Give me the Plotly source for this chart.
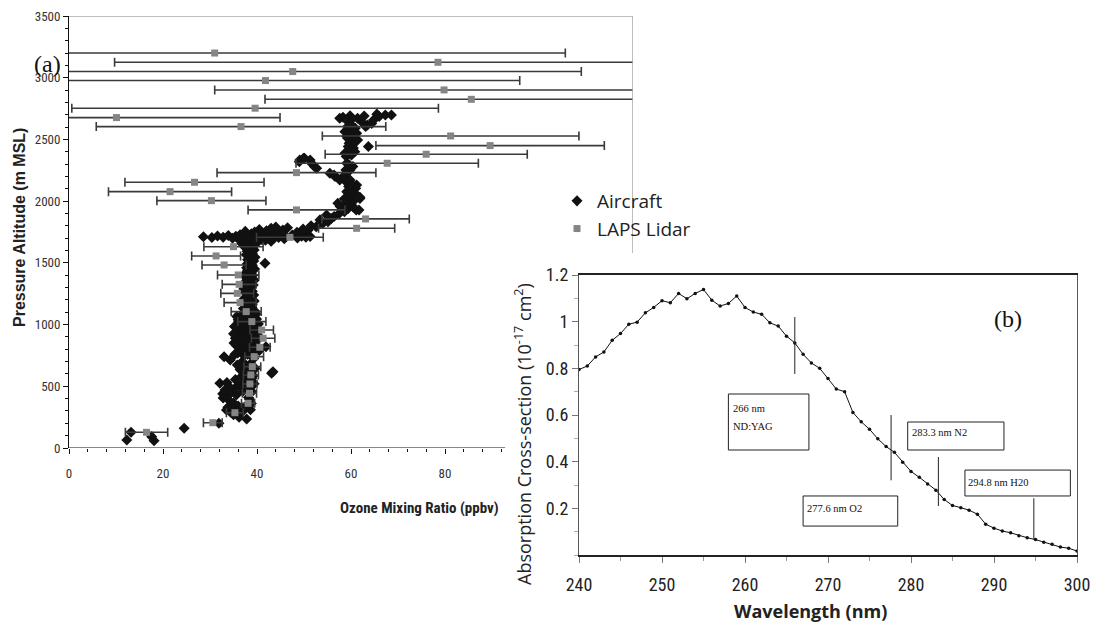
import plotly.graph_objects as go

W, H = 1094, 628

# ---------------- Panel (a) data ----------------
lidar_alt = [3200, 3125, 3050, 2977, 2901, 2825, 2753, 2677, 2604, 2528,
             2450, 2380, 2307, 2231, 2153, 2077, 2004, 1929, 1856, 1780,
             1707, 1631, 1556, 1483, 1402, 1326, 1253, 1178, 1105, 1024,
             956, 889, 816, 740, 659, 592, 519, 443, 362, 286,
             205, 127]
lidar_ozone = [31.0, 78.5, 47.6, 41.8, 79.8, 85.6, 39.6, 10.1, 36.6, 81.2,
               89.6, 76.0, 67.7, 48.4, 26.7, 21.5, 30.3, 48.4, 63.1, 61.2,
               47.0, 35.0, 31.3, 33.0, 36.0, 36.2, 35.8, 36.4, 37.7, 38.9,
               41.0, 41.3, 40.6, 39.4, 39.0, 38.7, 38.5, 38.4, 38.1, 35.3,
               30.6, 16.5]
lidar_err = [74.6, 68.8, 61.4, 54.1, 48.8, 43.9, 39.0, 34.8, 30.8, 27.3,
             24.3, 21.5, 19.4, 16.9, 14.8, 13.1, 11.6, 10.3, 9.3, 8.1,
             7.1, 6.3, 5.2, 4.7, 4.4, 3.6, 3.5, 3.4, 3.2, 3.0,
             2.5, 2.5, 2.2, 2.0, 1.8, 1.6, 1.5, 1.5, 1.4, 1.8,
             2.0, 4.5]

aircraft_alt = [
    65, 127, 59, 92, 160, 200, 235, 250, 270, 290,
    308, 320, 300, 330, 340, 350, 365, 380, 395, 405,
    420, 430, 440, 450, 460, 470, 480, 490, 500, 510,
    524, 530, 540, 555, 565, 575, 585, 595, 605, 618,
    625, 635, 645, 660, 672, 685, 700, 713, 725, 740,
    750, 760, 770, 782, 795, 805, 815, 821, 830, 840,
    850, 860, 870, 880, 890, 900, 910, 920, 930, 940,
    950, 960, 970, 980, 990, 1000, 1010, 1020, 1030, 1040,
    1050, 1060, 1070, 1080, 1090, 1100, 1110, 1120, 1130, 1140,
    1150, 1160, 1170, 1180, 1190, 1200, 1210, 1220, 1230, 1240,
    1250, 1260, 1270, 1280, 1290, 1300, 1310, 1320, 1330, 1340,
    1350, 1360, 1370, 1380, 1390, 1400, 1410, 1420, 1430, 1440,
    1450, 1460, 1470, 1480, 1490, 1497, 1505, 1515, 1525, 1535,
    1545, 1555, 1565, 1575, 1585, 1595, 1605, 1615, 1625, 1635,
    1645, 1655, 1665, 1672, 1680, 1688, 1695, 760, 790, 830,
    850, 875, 905, 925, 945, 965, 985, 1005, 1025, 1045,
    1065, 1085, 310, 360, 410, 455, 500, 520, 545, 1655,
    1712, 1705, 1718, 1708, 1722, 1700, 1715, 1728, 1704, 1720,
    1735, 1710, 1726, 1740, 1703, 1717, 1730, 1706, 1722, 1712,
    1725, 1702, 1716, 1708, 1713, 1695, 1750, 1760, 1745, 1770,
    1690, 1698, 1755, 1780, 1765, 1740, 1748, 1766, 1775, 1793,
    1800, 1820, 1834, 1848, 1860, 1875, 1888, 1900, 1915, 1929,
    1929, 1940, 1956, 1956, 1970, 1983, 1995, 2004, 2010, 2020,
    2021, 2031, 2037, 2050, 2065, 2077, 2077, 2090, 2105, 2118,
    2131, 2145, 2160, 2172, 2172, 2185, 2199, 2199, 2212, 2226,
    2240, 2253, 2253, 2266, 2280, 2280, 2295, 2307, 2307, 2320,
    2334, 2334, 2347, 2347, 2361, 2374, 2388, 2401, 2415, 2430,
    2442, 2442, 2455, 2470, 2483, 2496, 2496, 2509, 2523, 2537,
    2550, 2550, 2563, 2577, 2590, 2604, 2604, 2617, 2630, 2645,
    2658, 2672, 2672, 2680, 2685, 2692, 2698, 2698, 2690, 2705,
    2665, 2640, 2620, 1785, 1790, 1695, 1700, 1710, 1684, 1676,
]
aircraft_ozone = [
    12.3, 13.2, 18.1, 17.6, 24.5, 31.9, 37.8, 36.2, 35.0, 34.4,
    33.5, 35.3, 37.0, 33.8, 36.0, 37.9, 35.0, 34.2, 38.4, 32.8,
    33.6, 35.6, 32.7, 34.5, 37.0, 33.2, 35.2, 38.6, 34.0, 36.2,
    32.1, 33.6, 37.8, 35.4, 38.9, 36.6, 39.2, 37.2, 43.1, 43.4,
    38.1, 36.4, 39.6, 37.6, 35.8, 38.7, 36.9, 34.3, 39.3, 33.0,
    37.2, 38.0, 35.9, 39.8, 36.5, 38.6, 37.4, 41.9, 35.6, 39.2,
    36.8, 38.3, 37.0, 40.2, 35.4, 38.0, 36.3, 39.4, 37.3, 35.8,
    38.8, 36.6, 40.0, 37.6, 35.9, 38.5, 36.9, 39.6, 37.2, 36.0,
    38.4, 37.4, 39.2, 36.8, 38.1, 37.5, 39.5, 38.0, 37.1, 38.9,
    37.6, 39.0, 38.2, 37.4, 39.4, 38.0, 37.3, 38.8, 37.8, 39.3,
    38.2, 37.5, 39.0, 38.0, 37.2, 38.7, 37.9, 39.2, 38.3, 37.4,
    38.6, 39.4, 37.9, 38.4, 37.5, 39.1, 38.2, 37.7, 38.9, 38.0,
    39.5, 37.8, 38.6, 39.0, 37.9, 41.7, 38.5, 39.3, 38.0, 38.8,
    39.6, 38.3, 37.7, 39.0, 38.5, 37.9, 39.4, 38.2, 37.5, 39.0,
    38.0, 36.8, 39.5, 37.2, 38.6, 40.2, 36.0, 35.3, 40.5, 39.9,
    35.1, 38.9, 40.4, 35.0, 37.9, 39.0, 35.2, 40.3, 36.1, 39.9,
    35.7, 39.8, 38.6, 38.8, 38.2, 38.9, 38.2, 39.4, 36.4, 39.8,
    28.6, 30.4, 31.6, 32.8, 33.9, 34.8, 35.5, 36.4, 37.2, 38.1,
    38.8, 39.6, 40.5, 41.2, 42.0, 42.9, 43.7, 44.6, 45.3, 46.2,
    47.5, 48.6, 49.5, 50.4, 51.3, 45.8, 39.5, 42.0, 44.5, 40.5,
    41.0, 39.0, 37.5, 43.0, 45.5, 49.7, 48.5, 50.9, 49.8, 52.6,
    51.5, 54.0, 55.1, 53.4, 55.8, 56.4, 54.8, 57.5, 58.6, 61.1,
    61.7, 59.4, 57.7, 60.4, 58.8, 57.2, 60.0, 60.6, 59.1, 58.6,
    61.9, 61.9, 61.2, 59.8, 60.8, 59.1, 59.3, 60.2, 61.0, 59.5,
    61.2, 60.0, 58.9, 59.8, 57.6, 59.0, 58.4, 56.6, 56.4, 55.5,
    59.4, 59.8, 58.9, 52.7, 60.4, 52.2, 59.6, 59.1, 51.6, 49.0,
    49.1, 51.3, 49.9, 50.1, 59.0, 60.1, 58.7, 60.8, 59.9, 60.5,
    59.4, 63.7, 60.3, 59.6, 61.0, 60.4, 61.4, 59.3, 59.1, 60.2,
    61.2, 60.6, 58.7, 59.8, 60.9, 59.3, 63.1, 63.5, 64.4, 62.2,
    64.8, 57.6, 61.4, 58.3, 66.0, 59.8, 67.3, 68.6, 62.8, 65.5,
    60.2, 59.5, 60.0, 46.5, 44.0, 43.5, 36.5, 37.8, 41.8, 43.0,
]

ozone_ticks = [0, 20, 40, 60, 80]

# ---------------- Panel (b) data ----------------
wavelength = [240, 241, 242, 243, 244, 245, 246, 247, 248, 249,
              250, 251, 252, 253, 254, 255, 256, 257, 258, 259,
              260, 261, 262, 263, 264, 265, 266, 267, 268, 269,
              270, 271, 272, 273, 274, 275, 276, 277, 278, 279,
              280, 281, 282, 283, 284, 285, 286, 287, 288, 289,
              290, 291, 292, 293, 294, 295, 296, 297, 298, 299, 300]
cross_section = [0.795, 0.81, 0.849, 0.87, 0.92, 0.949, 0.989, 0.998, 1.038, 1.061,
                 1.09, 1.081, 1.121, 1.098, 1.121, 1.138, 1.092, 1.067, 1.078, 1.11,
                 1.061, 1.041, 1.032, 0.995, 0.981, 0.938, 0.909, 0.86, 0.823, 0.80,
                 0.756, 0.711, 0.70, 0.611, 0.571, 0.539, 0.498, 0.465, 0.44, 0.397,
                 0.358, 0.333, 0.304, 0.278, 0.238, 0.212, 0.203, 0.192, 0.175, 0.132,
                 0.115, 0.103, 0.095, 0.083, 0.074, 0.066, 0.055, 0.046, 0.034, 0.029, 0.017]

line_wavelengths = [266.0, 277.6, 283.3, 294.8]
line_labels = ["266 nm<br>ND:YAG", "277.6 nm O2", "283.3 nm N2", "294.8 nm H20"]

NARROW = "Liberation Sans Narrow, Arial Narrow, Roboto Condensed, Liberation Sans, sans-serif"
SANS = "Open Sans, Noto Sans, sans-serif"
ARIAL = "Liberation Sans, Arial, sans-serif"
SERIF = "Liberation Serif, Times New Roman, serif"


def fx(px):
    return px / W


def fy(py):
    return 1 - py / H


fig = go.Figure()

fig.add_trace(go.Scatter(
    x=aircraft_ozone, y=aircraft_alt, mode="markers", name="Aircraft",
    marker=dict(symbol="diamond", size=8.5, color="#111111", line=dict(width=0)),
    xaxis="x", yaxis="y"))

fig.add_trace(go.Scatter(
    x=lidar_ozone, y=lidar_alt, mode="markers", name="LAPS Lidar",
    marker=dict(symbol="square", size=7, color="#858585", line=dict(width=0)),
    error_x=dict(type="data", array=lidar_err, color="#3a3a3a", thickness=1.6, width=4.5),
    xaxis="x", yaxis="y"))

fig.add_trace(go.Scatter(
    x=wavelength, y=cross_section, mode="lines+markers", showlegend=False,
    line=dict(color="#111111", width=1),
    marker=dict(size=3.5, color="#111111"),
    xaxis="x2", yaxis="y2"))

minor_x_a = [v for v in range(4, 93, 4) if v % 20 != 0]

fig.update_layout(
    template="none",
    width=W, height=H, margin=dict(l=0, r=0, t=0, b=0, pad=0, autoexpand=False),
    paper_bgcolor="white", plot_bgcolor="white",
    showlegend=True,
    legend=dict(x=fx(557), y=fy(182), xanchor="left", yanchor="top",
                font=dict(family=SANS, size=19, color="#222222"),
                bgcolor="rgba(0,0,0,0)", borderwidth=0, itemwidth=30, tracegroupgap=0),
    xaxis=dict(domain=[fx(69), fx(633)], range=[0, 120], showline=False,
               automargin=False, showgrid=False, zeroline=False,
               tickmode="array", tickvals=ozone_ticks,
               ticks="outside", ticklen=5, tickcolor="#111", tickwidth=1,
               ticklabelstandoff=8,
               tickfont=dict(family=NARROW, size=13, color="#333333"),
               minor=dict(tickmode="array", tickvals=minor_x_a, ticks="outside",
                          ticklen=3, tickcolor="#111", tickwidth=1)),
    yaxis=dict(domain=[fy(448), fy(16)], range=[0, 3500], showline=True,
               automargin=False,
               linecolor="#111", linewidth=1, showgrid=False, zeroline=False,
               dtick=500, ticks="outside", ticklen=5, tickcolor="#111",
               tickfont=dict(family=NARROW, size=13, color="#333333"),
               minor=dict(dtick=100, ticks="outside", ticklen=3, tickcolor="#111")),
    xaxis2=dict(domain=[fx(579), fx(1077)], range=[240, 300], anchor="y2",
                automargin=False,
                showline=True, mirror=True, linecolor="#222", linewidth=1.6,
                showgrid=False, zeroline=False, dtick=10,
                ticks="outside", ticklen=6, tickcolor="#777", ticklabelstandoff=7,
                tickfont=dict(family=NARROW, size=18, color="#222222"),
                minor=dict(dtick=5, ticks="outside", ticklen=4, tickcolor="#999")),
    yaxis2=dict(domain=[fy(555), fy(275)], range=[0, 1.2], anchor="x2",
                automargin=False,
                showline=True, mirror=True, linecolor="#555", linewidth=1.2,
                showgrid=False, zeroline=False,
                tickmode="array", tickvals=[0.2, 0.4, 0.6, 0.8, 1.0, 1.2],
                ticktext=["0.2", "0.4", "0.6", "0.8", "1", "1.2"],
                ticks="outside", ticklen=6, tickcolor="#777",
                tickfont=dict(family=NARROW, size=18, color="#222222"),
                minor=dict(dtick=0.1, ticks="outside", ticklen=4, tickcolor="#aaa")),
)

shapes = [
    # panel (a) frame pieces
    dict(type="line", xref="x", yref="y", x0=0, x1=92.8, y0=0, y1=0,
         line=dict(color="#111", width=1.2)),
    dict(type="line", xref="x", yref="y", x0=0, x1=120, y0=3500, y1=3500,
         line=dict(color="#a8a8a8", width=1.5)),
    dict(type="line", xref="x", yref="y", x0=120, x1=120, y0=3500, y1=1580,
         line=dict(color="#a8a8a8", width=1.5)),
]

# panel (b) marker lines
line_spans = [(0.776, 1.02), (0.32, 0.60), (0.21, 0.42), (0.067, 0.243)]
for wl, (y0, y1) in zip(line_wavelengths, line_spans):
    shapes.append(dict(type="line", xref="x2", yref="y2", x0=wl, x1=wl, y0=y0, y1=y1,
                       line=dict(color="#222", width=1)))

# label boxes: (x0, x1, y0, y1, text anchor x, list of (y, text))
boxes = [
    (258.0, 267.7, 0.45, 0.69, 258.3, [(0.63, "266 nm"), (0.549, "ND:YAG")]),
    (267.0, 278.4, 0.124, 0.253, 267.2, [(0.201, line_labels[1])]),
    (279.6, 291.2, 0.45, 0.57, 279.9, [(0.527, line_labels[2])]),
    (286.5, 299.2, 0.253, 0.364, 286.6, [(0.309, line_labels[3])]),
]
annotations = []
for x0, x1, y0, y1, tx, lines in boxes:
    shapes.append(dict(type="rect", xref="x2", yref="y2", x0=x0, x1=x1, y0=y0, y1=y1,
                       line=dict(color="#222", width=1), fillcolor="white", layer="above"))
    for ty, t in lines:
        annotations.append(dict(xref="x2", yref="y2", x=tx, y=ty, text=t, showarrow=False,
                                xanchor="left", yanchor="middle",
                                font=dict(family=SERIF, size=10.5, color="#111")))

annotations += [
    dict(xref="paper", yref="paper", x=fx(20), y=fy(228), text="<b>Pressure Altitude (m MSL)</b>",
         textangle=-90, showarrow=False, xanchor="center", yanchor="middle",
         font=dict(family=ARIAL, size=16, color="#222")),
    dict(xref="paper", yref="paper", x=fx(419), y=fy(508), text="<b>Ozone Mixing Ratio (ppbv)</b>",
         showarrow=False, xanchor="center", yanchor="middle",
         font=dict(family=NARROW, size=15, color="#222")),
    dict(xref="paper", yref="paper", x=fx(47), y=fy(64), text="(a)", showarrow=False,
         xanchor="center", yanchor="middle", font=dict(family=SERIF, size=24, color="#111")),
    dict(xref="paper", yref="paper", x=fx(1008), y=fy(319), text="(b)", showarrow=False,
         xanchor="center", yanchor="middle", font=dict(family=SERIF, size=24, color="#111")),
    dict(xref="paper", yref="paper", x=fx(523), y=fy(434),
         text="Absorption Cross-section (10<sup>-17</sup> cm<sup>2</sup>)",
         textangle=-90, showarrow=False, xanchor="center", yanchor="middle",
         font=dict(family=SANS, size=18, color="#222")),
    dict(xref="paper", yref="paper", x=fx(810), y=fy(611), text="<b>Wavelength (nm)</b>",
         showarrow=False, xanchor="center", yanchor="middle",
         font=dict(family=SANS, size=18, color="#222")),
]

fig.update_layout(shapes=shapes, annotations=annotations)
fig.write_html("out.html")
